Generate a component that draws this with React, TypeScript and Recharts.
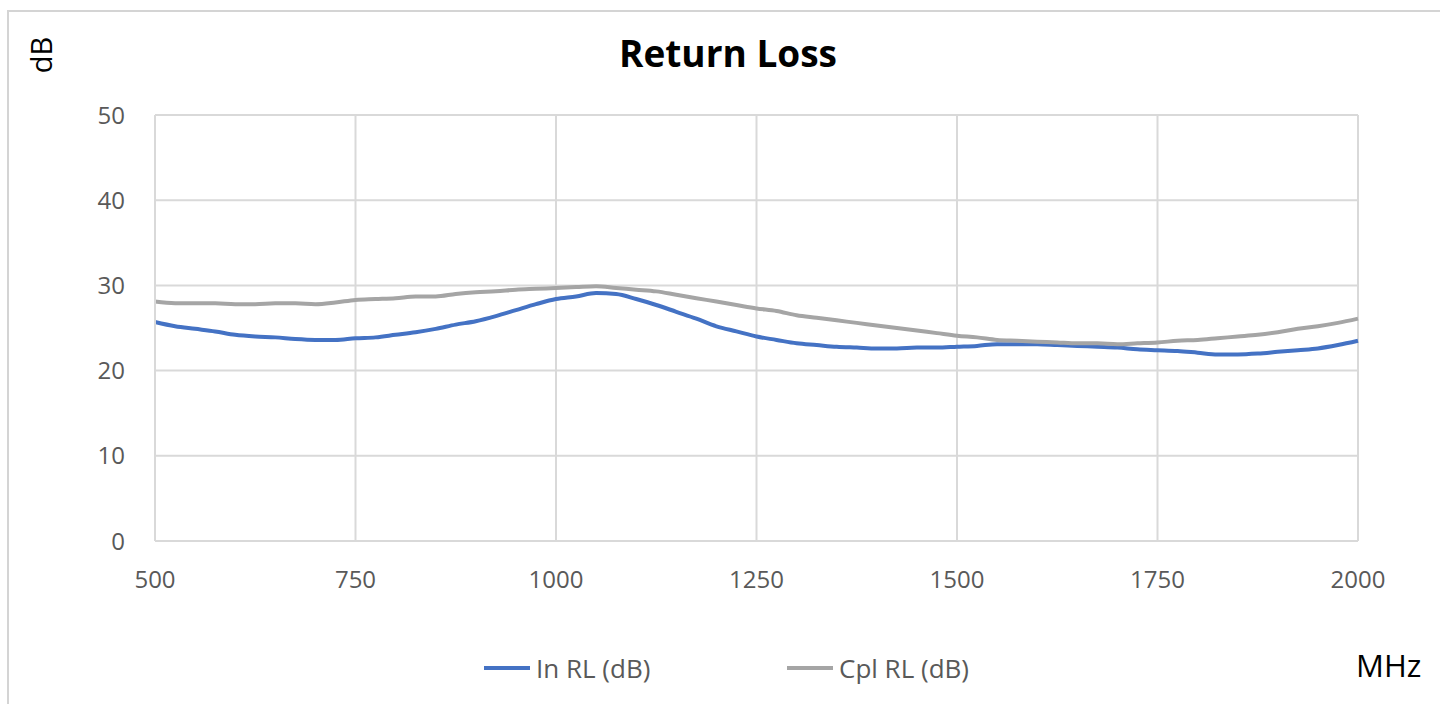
import React from "react";
import { LineChart, Line, XAxis, YAxis, CartesianGrid } from "recharts";

const freqMHz = [
  500, 525, 550, 575, 600, 625, 650, 675, 700, 725, 750, 775, 800, 825, 850,
  875, 900, 925, 950, 975, 1000, 1025, 1050, 1075, 1100, 1125, 1150, 1175,
  1200, 1225, 1250, 1275, 1300, 1325, 1350, 1375, 1400, 1425, 1450, 1475,
  1500, 1525, 1550, 1575, 1600, 1625, 1650, 1675, 1700, 1725, 1750, 1775,
  1800, 1825, 1850, 1875, 1900, 1925, 1950, 1975, 2000,
];

const inRL = [
  25.7, 25.2, 24.9, 24.6, 24.2, 24.0, 23.9, 23.7, 23.6, 23.6, 23.8, 23.9,
  24.2, 24.5, 24.9, 25.4, 25.8, 26.4, 27.1, 27.8, 28.4, 28.7, 29.1, 29.0,
  28.4, 27.7, 26.9, 26.1, 25.2, 24.6, 24.0, 23.6, 23.2, 23.0, 22.8, 22.7,
  22.6, 22.6, 22.7, 22.7, 22.8, 22.9, 23.1, 23.1, 23.1, 23.0, 22.9, 22.8,
  22.7, 22.5, 22.4, 22.3, 22.1, 21.9, 21.9, 22.0, 22.2, 22.4, 22.6, 23.0,
  23.5,
];

const cplRL = [
  28.1, 27.9, 27.9, 27.9, 27.8, 27.8, 27.9, 27.9, 27.8, 28.0, 28.3, 28.4,
  28.5, 28.7, 28.7, 29.0, 29.2, 29.3, 29.5, 29.6, 29.7, 29.8, 29.9, 29.7,
  29.5, 29.3, 28.9, 28.5, 28.1, 27.7, 27.3, 27.0, 26.5, 26.2, 25.9, 25.6,
  25.3, 25.0, 24.7, 24.4, 24.1, 23.9, 23.6, 23.5, 23.4, 23.3, 23.2, 23.2,
  23.1, 23.2, 23.3, 23.5, 23.6, 23.8, 24.0, 24.2, 24.5, 24.9, 25.2, 25.6,
  26.1,
];

const xTicks = [500, 750, 1000, 1250, 1500, 1750, 2000];
const yTicks = [0, 10, 20, 30, 40, 50];

const seriesNames = ["In RL (dB)", "Cpl RL (dB)"];
const seriesColors = ["#4472C4", "#A5A5A5"];

const data = freqMHz.map((f, i) => ({ f, inRL: inRL[i], cplRL: cplRL[i] }));

const FONT = "'Open Sans', sans-serif";
const legendLeft = [484, 787];

export default function App() {
  return (
    <div
      style={{
        position: "absolute",
        left: 0,
        top: 0,
        width: 1440,
        height: 704,
        background: "#fff",
        overflow: "hidden",
        fontFamily: FONT,
      }}
    >
      <div
        style={{
          position: "absolute",
          left: 7,
          top: 10,
          width: 1440,
          height: 700,
          border: "2px solid #d4d4d4",
          boxSizing: "border-box",
        }}
      />
      <div
        style={{
          position: "absolute",
          left: 0,
          top: 27,
          width: 1456,
          textAlign: "center",
          fontSize: 37,
          fontWeight: 700,
          color: "#000",
          lineHeight: "52px",
        }}
      >
        Return Loss
      </div>
      <div
        style={{
          position: "absolute",
          left: 40,
          top: 55,
          transform: "translate(-50%, -50%) rotate(-90deg)",
          fontSize: 29,
          color: "#000",
          whiteSpace: "nowrap",
        }}
      >
        dB
      </div>
      <div
        style={{
          position: "absolute",
          left: 1356,
          top: 644,
          fontSize: 31,
          color: "#000",
          lineHeight: "42px",
        }}
      >
        MHz
      </div>
      {seriesNames.map((n, i) => (
        <div
          key={n}
          style={{
            position: "absolute",
            left: legendLeft[i],
            top: 650,
            height: 36,
            display: "flex",
            alignItems: "center",
            fontSize: 26,
            color: "#595959",
            whiteSpace: "nowrap",
          }}
        >
          <div
            style={{
              width: 46,
              height: 4,
              background: seriesColors[i],
              marginRight: 6,
            }}
          />
          <span>{n}</span>
        </div>
      ))}
      <div style={{ position: "absolute", left: 0, top: 0 }}>
        <LineChart
          width={1440}
          height={704}
          data={data}
          margin={{ top: 115, right: 82, bottom: 123, left: 95 }}
        >
          <CartesianGrid stroke="#d9d9d9" strokeWidth={2} horizontal vertical />
          <XAxis
            dataKey="f"
            type="number"
            domain={[500, 2000]}
            ticks={xTicks}
            height={40}
            axisLine={{ stroke: "#d9d9d9", strokeWidth: 2 }}
            tickLine={false}
            tick={{ fill: "#595959", fontSize: 24, fontFamily: FONT }}
            tickMargin={24}
            interval={0}
          />
          <YAxis
            type="number"
            domain={[0, 50]}
            ticks={yTicks}
            width={60}
            axisLine={{ stroke: "#d9d9d9", strokeWidth: 2 }}
            tickLine={false}
            tick={{ fill: "#595959", fontSize: 24, fontFamily: FONT }}
            tickMargin={24}
            interval={0}
          />
          <Line
            type="monotone"
            dataKey="inRL"
            name={seriesNames[0]}
            stroke={seriesColors[0]}
            strokeWidth={4}
            dot={false}
            isAnimationActive={false}
          />
          <Line
            type="monotone"
            dataKey="cplRL"
            name={seriesNames[1]}
            stroke={seriesColors[1]}
            strokeWidth={4}
            dot={false}
            isAnimationActive={false}
          />
        </LineChart>
      </div>
    </div>
  );
}
